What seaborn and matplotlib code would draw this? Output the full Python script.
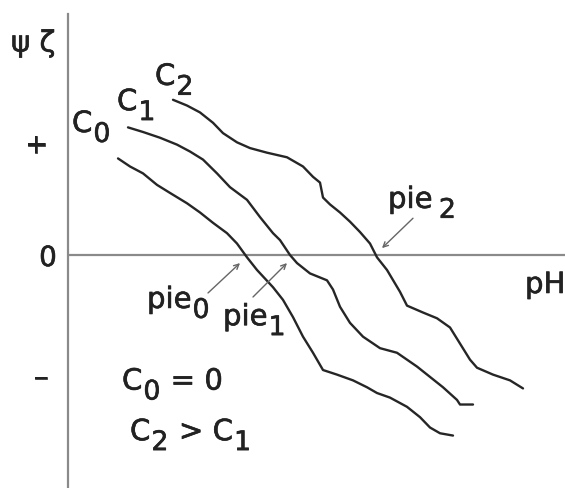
import matplotlib
matplotlib.use("Agg")
import matplotlib.pyplot as plt
import matplotlib.transforms as mtransforms
import matplotlib.patheffects as pe
import numpy as np
import pandas as pd
import seaborn as sns

# Zeta potential (arbitrary units) versus pH for three salt concentrations
ph_c0 = [1.00, 1.24, 1.50, 1.78, 2.04, 2.38, 2.64, 2.90, 3.18, 3.38, 3.58, 3.78, 4.10, 4.30,
         4.50, 4.70, 4.90, 5.10, 5.38, 5.70, 5.98, 6.18, 6.44, 6.78, 7.04, 7.24, 7.44, 7.70]
psi_c0 = [0.84, 0.77, 0.71, 0.61, 0.54, 0.45, 0.37, 0.28, 0.19, 0.10, -0.02, -0.13, -0.28, -0.39,
          -0.54, -0.71, -0.85, -1.00, -1.04, -1.09, -1.15, -1.20, -1.24, -1.32, -1.41, -1.50, -1.55, -1.57]

ph_c1 = [1.20, 1.50, 1.84, 2.18, 2.44, 2.70, 2.98, 3.24, 3.58, 3.84, 4.10, 4.24, 4.44, 4.58,
         4.84, 5.18, 5.30, 5.44, 5.64, 5.90, 6.24, 6.58, 6.98, 7.24, 7.50, 7.78, 7.84, 8.10]
psi_c1 = [1.11, 1.07, 1.02, 0.96, 0.90, 0.83, 0.71, 0.59, 0.48, 0.33, 0.19, 0.13, 0.00, -0.07,
          -0.16, -0.22, -0.30, -0.45, -0.59, -0.71, -0.81, -0.85, -0.97, -1.06, -1.15, -1.26, -1.30, -1.30]

ph_c2 = [2.10, 2.38, 2.64, 2.90, 3.10, 3.38, 3.64, 3.98, 4.38, 4.70, 4.90, 5.04, 5.10, 5.24,
         5.44, 5.64, 5.84, 6.04, 6.18, 6.38, 6.64, 6.78, 7.10, 7.38, 7.64, 7.84, 8.04, 8.18,
         8.50, 8.84, 9.10]
psi_c2 = [1.35, 1.30, 1.24, 1.15, 1.06, 0.98, 0.93, 0.89, 0.85, 0.77, 0.68, 0.63, 0.50, 0.44,
          0.37, 0.29, 0.20, 0.10, -0.02, -0.13, -0.32, -0.44, -0.50, -0.55, -0.63, -0.77, -0.91, -0.98,
          -1.04, -1.09, -1.16]

ytick_values = [0.98, 0.0, -1.04]
ytick_labels = ["+ ", "0", "\u2013 "]

df = pd.concat([
    pd.DataFrame({"pH": ph_c0, "psi": psi_c0, "curve": "c0"}),
    pd.DataFrame({"pH": ph_c1, "psi": psi_c1, "curve": "c1"}),
    pd.DataFrame({"pH": ph_c2, "psi": psi_c2, "curve": "c2"}),
], ignore_index=True)

sns.set_theme(style="white")
plt.rcParams["font.family"] = ["DejaVu Sans"]

W, H = 565, 488
fig = plt.figure(figsize=(W / 100, H / 100), dpi=100)
ax = fig.add_axes([68 / W, 0, 1 - 68 / W, (H - 14) / H])

sns.lineplot(data=df, x="pH", y="psi", units="curve", estimator=None, sort=False,
             color="#262626", lw=1.7, ax=ax, legend=False)

ax.set_xlim(0, 9.94)
ax.set_ylim(-2.026, 2.096)
ax.axhline(0, color="#8a8a8a", lw=1.6, zorder=1)

for side in ["top", "right", "bottom"]:
    ax.spines[side].set_visible(False)
ax.spines["left"].set_color("#8a8a8a")
ax.spines["left"].set_linewidth(1.6)

TXT = "#222222"
FS = 21
heavy = [pe.withStroke(linewidth=0.45, foreground=TXT)]

ax.set_xticks([])
ax.set_yticks(ytick_values)
ax.set_yticklabels(ytick_labels, fontsize=20, color=TXT)
for lbl in ax.get_yticklabels():
    lbl.set_path_effects(heavy)
ax.tick_params(axis="y", length=0, pad=8)
ax.set_xlabel("")
ax.set_ylabel("")

renderer = fig.canvas.get_renderer()


def rich_text(x, y, parts, size=FS):
    """Write a run of text pieces; pieces flagged True are set as subscripts."""
    x0, y0 = ax.transData.transform((x, y))
    em = size * fig.dpi / 72
    for s, sub in parts:
        fs = size * 0.92 if sub else size
        dy = -0.34 * em if sub else 0
        t = ax.text(x0, y0 + dy, s, transform=mtransforms.IdentityTransform(),
                    fontsize=fs, color=TXT, ha="left", va="baseline", path_effects=heavy)
        bb = t.get_window_extent(renderer)
        x0 = bb.x1 + 1


rich_text(0.08, 1.07, [("C", False), ("0", True)])
rich_text(0.98, 1.26, [("C", False), ("1", True)])
rich_text(1.74, 1.48, [("C", False), ("2", True)])
rich_text(1.58, -0.46, [("pie", False), ("0", True)])
rich_text(3.10, -0.61, [("pie", False), ("1", True)])
rich_text(6.40, 0.41, [("pie", False), ("\u20092", True)])
rich_text(1.08, -1.17, [("C", False), ("0", True), (" = 0", False)])
rich_text(1.24, -1.61, [("C", False), ("2", True), (" > C", False), ("1", True)])

ax.text(9.14, -0.33, "pH", fontsize=FS, color=TXT, ha="left", va="baseline",
        path_effects=heavy)
ax.text(-1.14, 1.77, "\u03c8 \u03b6", fontsize=FS, color=TXT, ha="left", va="baseline",
        path_effects=heavy)

arrow = dict(arrowstyle="->", color="#666666", lw=1.0, shrinkA=0, shrinkB=0,
             mutation_scale=9)
ax.annotate("", xy=(3.44, -0.07), xytext=(2.80, -0.33), arrowprops=arrow)
ax.annotate("", xy=(4.38, -0.07), xytext=(3.70, -0.365), arrowprops=arrow)
ax.annotate("", xy=(6.28, 0.06), xytext=(6.90, 0.32), arrowprops=arrow)

fig.savefig("out.png", dpi=100)
